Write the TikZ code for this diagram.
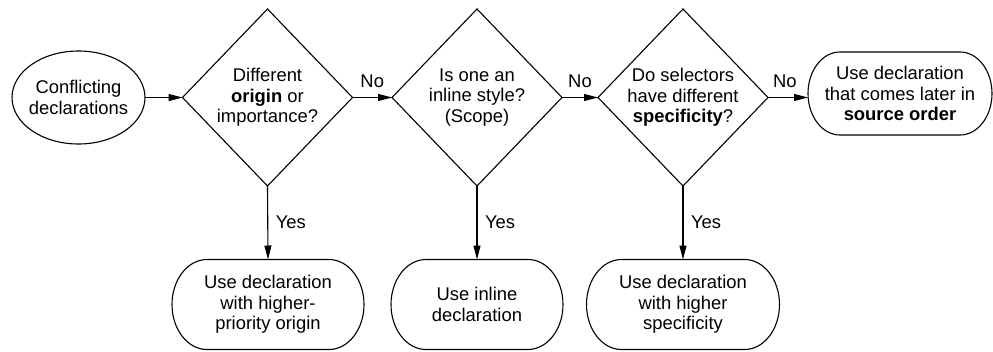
\documentclass[tikz,border=0pt]{standalone}
\usepackage{fontspec}
\setmainfont{Liberation Sans}
\usetikzlibrary{shapes.geometric,arrows.meta}
\newcommand\stadiumpath[3]{%
  \draw[line] ([xshift=#2]#1.north west) -- ([xshift=-#2]#1.north east)
    arc[start angle=90, end angle=-90, x radius=#2, y radius=#3]
    -- ([xshift=#2]#1.south west)
    arc[start angle=270, end angle=90, x radius=#2, y radius=#3] -- cycle;}
\begin{document}
\begin{tikzpicture}[x=1pt,y=-1pt,
  every node/.style={font=\fontsize{18.4}{20.5}\selectfont, align=center, inner sep=0pt, outer sep=0pt},
  line/.style={line width=1.1pt, black},
  arr/.style={line, -{Triangle[length=14pt,width=7pt]}},
  dec/.style={diamond, draw, line, inner sep=-12pt, minimum width=170pt, minimum height=177pt},
  startnode/.style={ellipse, draw, line, inner sep=-10pt, minimum width=133pt, minimum height=93pt},
  term/.style={rectangle},
  nolbl/.style={above=10pt},
  yeslbl/.style={right=8pt}
]
\useasboundingbox (0,0) rectangle (993,351);

\node[startnode] (s) at (78.5,97.5) {Conflicting\\declarations};
\node[dec] (d1) at (267.5,97.5) {Different\\\textbf{origin} or\\importance?};
\node[dec] (d2) at (477,97.5) {Is one an\\inline style?\\(Scope)};
\node[dec] (d3) at (683,97.5) {Do selectors\\have different\\\textbf{specificity}?};
\node[term, minimum width=184pt, minimum height=83pt] (t4) at (900,93.5)
  {Use declaration\\that comes later in\\\textbf{source order}};
\node[term, minimum width=192pt, minimum height=90pt] (t1) at (268,304.5)
  {Use declaration\\with higher-\\priority origin};
\node[term, minimum width=172pt, minimum height=90pt] (t2) at (477,304.5)
  {Use inline\\declaration};
\node[term, minimum width=193pt, minimum height=90pt] (t3) at (683,304.5)
  {Use declaration\\with higher\\specificity};

\stadiumpath{t4}{32pt}{41.5pt}
\stadiumpath{t1}{35pt}{45pt}
\stadiumpath{t2}{35pt}{45pt}
\stadiumpath{t3}{35pt}{45pt}

\draw[arr] (s.east) -- (d1.west);
\draw[arr] (d1.east) -- node[nolbl] {No} (d2.west);
\draw[arr] (d2.east) -- node[nolbl] {No} (d3.west);
\draw[arr] (d3.east) -- node[nolbl, pos=0.42] {No} (d3.east -| t4.west);
\draw[arr] (d1.south) -- node[yeslbl] {Yes} (t1.north);
\draw[arr] (d2.south) -- node[yeslbl] {Yes} (t2.north);
\draw[arr] (d3.south) -- node[yeslbl] {Yes} (t3.north);
\end{tikzpicture}
\end{document}
